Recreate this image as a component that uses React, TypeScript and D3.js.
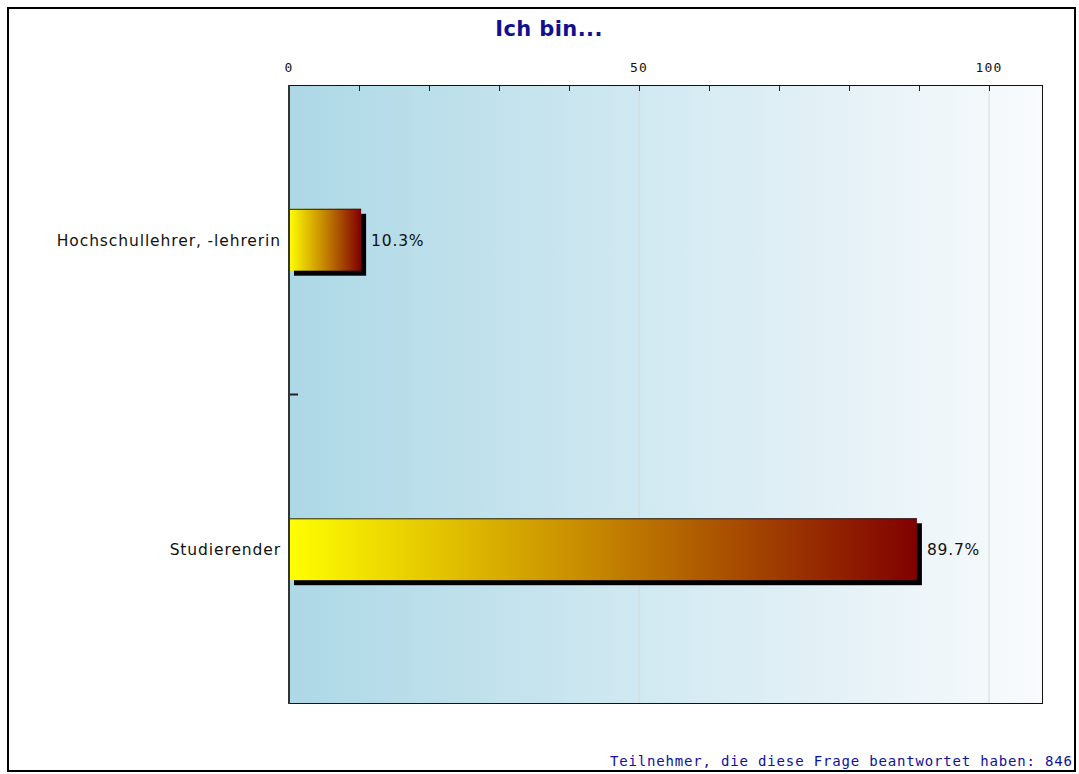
import React from "react";
import * as d3 from "d3";

const categories: string[] = ["Hochschullehrer, -lehrerin", "Studierender"];
const values: number[] = [10.3, 89.7];
const tickValues: number[] = [0, 10, 20, 30, 40, 50, 60, 70, 80, 90, 100];
const tickLabels: number[] = [0, 50, 100];
const gridValues: number[] = [50, 100];
const title = "Ich bin...";
const footer = "Teilnehmer, die diese Frage beantwortet haben: 846";

const W = 1079;
const H = 774;
const plotL = 289;
const plotR = 1043;
const plotT = 85;
const plotB = 704;

export default function App() {
  const x = d3.scaleLinear().domain([0, 100]).range([plotL, 989]);
  const y = d3.scaleBand<string>().domain(categories).range([plotT, plotB]).padding(0);
  const barH = y.bandwidth() * 0.2;
  const shadow = 5;
  const bgColors = d3.interpolateRgb("#add8e6", "#f9fbfd");

  return (
    <svg
      width={W}
      height={H}
      style={{ position: "absolute", left: 0, top: 0, display: "block" }}
      fontFamily="DejaVu Sans, Verdana, sans-serif"
    >
      <defs>
        <linearGradient id="bg" x1="0" x2="1" y1="0" y2="0">
          {[0, 0.25, 0.5, 0.75, 1].map((t) => (
            <stop key={t} offset={t} stopColor={bgColors(t)} />
          ))}
        </linearGradient>
        <linearGradient id="bar" x1="0" x2="1" y1="0" y2="0">
          <stop offset="0" stopColor="#ffff00" />
          <stop offset="0.5" stopColor="#c48400" />
          <stop offset="1" stopColor="#800000" />
        </linearGradient>
      </defs>
      <rect x={0} y={0} width={W} height={H} fill="#fff" />
      <rect x={8} y={8} width={1067} height={763} fill="#fff" stroke="#000" strokeWidth={2} />

      <text
        x={549}
        y={36}
        textAnchor="middle"
        fontSize={21}
        fontWeight="bold"
        letterSpacing={0.4}
        fill="#11118f"
      >
        {title}
      </text>

      <rect x={plotL} y={plotT} width={plotR - plotL} height={plotB - plotT} fill="url(#bg)" />

      {gridValues.map((v) => (
        <line key={v} x1={x(v)} x2={x(v)} y1={plotT} y2={plotB} stroke="#d6dadc" strokeWidth={1} />
      ))}

      {tickValues.map((v) => (
        <line key={v} x1={x(v) + 0.5} x2={x(v) + 0.5} y1={plotT} y2={plotT + 6} stroke="#222" strokeWidth={1} />
      ))}
      {tickLabels.map((v) => (
        <text
          key={v}
          x={x(v)}
          y={72}
          textAnchor="middle"
          fontSize={13}
          fontFamily="DejaVu Sans Mono, monospace"
          letterSpacing={1.2}
          fill="#111"
        >
          {v}
        </text>
      ))}

      {categories.map((c, i) => {
        const cy = (y(c) as number) + y.bandwidth() / 2;
        const top = cy - barH / 2;
        const w = x(values[i]) - x(0);
        return (
          <g key={c}>
            <rect x={x(0) + shadow} y={top + shadow} width={w} height={barH} fill="#000" />
            <rect x={x(0)} y={top} width={w} height={barH} fill="url(#bar)" />
            <line x1={x(0)} x2={x(0) + w} y1={top + 0.5} y2={top + 0.5} stroke="#222" strokeWidth={1} />
            <text x={plotL - 8} y={cy + 6} textAnchor="end" fontSize={15.5} letterSpacing={0.9} fill="#111">
              {c}
            </text>
            <text x={x(0) + w + shadow + 5} y={cy + 6} textAnchor="start" fontSize={15.5} letterSpacing={0.8} fill="#111">
              {values[i].toFixed(1)}%
            </text>
          </g>
        );
      })}

      <line x1={plotL} x2={plotL + 9} y1={plotT + y.bandwidth()} y2={plotT + y.bandwidth()} stroke="#222" strokeWidth={2} />

      <rect x={plotL + 0.5} y={plotT + 0.5} width={plotR - plotL - 1} height={plotB - plotT - 1} fill="none" stroke="#111" strokeWidth={1} />
      <line x1={plotL} x2={plotL} y1={plotT} y2={plotB} stroke="#333" strokeWidth={2} />

      <text
        x={1072}
        y={766}
        textAnchor="end"
        fontSize={14}
        fontFamily="DejaVu Sans Mono, monospace"
        fill="#1010a0"
        textLength={462}
        lengthAdjust="spacing"
      >
        {footer}
      </text>
    </svg>
  );
}
